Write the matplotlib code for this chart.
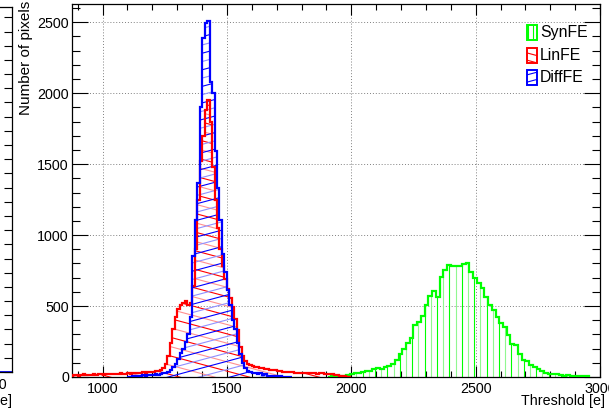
import numpy as np
import matplotlib
matplotlib.use("Agg")
import matplotlib.pyplot as plt
from matplotlib.collections import LineCollection
from matplotlib.patches import Rectangle
from matplotlib.ticker import MultipleLocator

plt.rcParams['font.family'] = ['Liberation Sans', 'DejaVu Sans']

W, H = 609, 408

# SynFE: bins of 15 e starting at 1905
syn_start, syn_width = 1905, 15
syn_counts = [3, 5, 6, 8, 10, 12, 20, 28, 30, 35,
              42, 40, 55, 60, 58, 70, 75, 95, 120, 165,
              200, 240, 275, 365, 390, 430, 505, 570, 605, 565,
              705, 755, 790, 780, 785, 780, 795, 800, 740, 695,
              660, 625, 565, 505, 470, 425, 380, 355, 295, 235,
              225, 165, 120, 110, 85, 70, 55, 40, 30, 22,
              20, 18, 14, 10, 12, 8, 9, 7, 6, 5]

# LinFE: bins of 10 e starting at 880
lin_start, lin_width = 880, 10
lin_counts = [12, 15, 10, 14, 18, 12, 16, 14, 20, 15,
              18, 22, 16, 20, 18, 24, 20, 18, 22, 26,
              20, 24, 28, 22, 26, 30, 25, 28, 32, 30,
              35, 33, 38, 40, 45, 50, 65, 90, 150, 240,
              340, 420, 480, 505, 525, 535, 505, 520, 640, 900,
              1250, 1520, 1700, 1880, 1950, 1800, 1480, 1250, 1050, 900,
              780, 690, 620, 560, 490, 410, 330, 210, 150, 115,
              95, 85, 78, 72, 70, 66, 62, 58, 55, 52,
              50, 46, 44, 40, 38, 36, 35, 33, 34, 30,
              30, 28, 30, 28, 26, 27, 25, 26, 24, 25,
              26, 24, 22, 20, 18, 15, 12, 8, 6, 4,
              3, 2]

# DiffFE: bins of 10 e starting at 1100
diff_start, diff_width = 1100, 10
diff_counts = [2, 3, 5, 8, 10, 8, 12, 10, 14, 12,
               15, 18, 16, 22, 25, 30, 38, 50, 70, 95,
               130, 170, 200, 250, 300, 420, 850, 1110, 1370, 1900,
               2390, 2495, 2510, 2080, 2000, 1590, 1330, 1105, 870, 740,
               610, 505, 400, 340, 240, 165, 100, 60, 40, 35,
               28, 25, 20, 28, 15, 18, 10, 8, 10, 6,
               5, 4, 3, 2, 1, 1]

labels = ['SynFE', 'LinFE', 'DiffFE']
colors = ['#00ff00', '#ff0000', '#0000ff']
light = ['#90f890', '#ff9090', '#9090ff']
hatch_angle = [90, -15, 15]
hatch_step = [6.2, 9.0, 8.0]


def fig_frac(x, y):
    return x / W, 1 - y / H


def add_hatch(ax, fig, clip, angle, step, c1, c2, zorder=2):
    # hatch lines are laid out in pixels over the whole figure, then clipped
    segs = []
    if angle == 90:
        for c in np.arange(3, W, step):
            segs.append([(c / W, 0), (c / W, 1)])
    else:
        t = np.tan(np.radians(angle))
        span = abs(t) * W
        for c in np.arange(-span, H + span, step / np.cos(np.radians(angle))):
            segs.append([(0, c / H), (1, (c + t * W) / H)])
    cols = [c1 if i % 2 == 0 else c2 for i in range(len(segs))]
    lc = LineCollection(segs, colors=cols, linewidths=0.8,
                        transform=fig.transFigure, zorder=zorder)
    ax.add_collection(lc, autolim=False)
    lc.set_clip_path(clip)
    return lc


fig = plt.figure(figsize=(W / 100, H / 100), dpi=100)

# main pad
x0, x1, y0, y1 = 72, 600, 4, 377
ax = fig.add_axes([x0 / W, 1 - y1 / H, (x1 - x0) / W, (y1 - y0) / H])
ax.set_xlim(877, 3000)
ax.set_ylim(0, 2629)

series = [(syn_start, syn_width, syn_counts),
          (lin_start, lin_width, lin_counts),
          (diff_start, diff_width, diff_counts)]

for i, (start, width, counts) in enumerate(series):
    edges = start + width * np.arange(len(counts) + 1)
    clip = ax.stairs(counts, edges, fill=True, facecolor='none',
                     edgecolor='none', linewidth=0)
    add_hatch(ax, fig, clip, hatch_angle[i], hatch_step[i], colors[i], light[i])
    ax.stairs(counts, edges, color=colors[i], linewidth=1.6, baseline=0, zorder=3)

ax.xaxis.set_major_locator(MultipleLocator(500))
ax.xaxis.set_minor_locator(MultipleLocator(100))
ax.yaxis.set_major_locator(MultipleLocator(500))
ax.yaxis.set_minor_locator(MultipleLocator(100))
ax.tick_params(which='both', direction='in', top=True, right=True,
               width=0.8, colors='black', labelsize=10.3)
ax.tick_params(axis='x', which='major', length=8.1, pad=3.4)
ax.tick_params(axis='x', which='minor', length=4.0)
ax.tick_params(axis='y', which='major', length=11.4, pad=2.2)
ax.tick_params(axis='y', which='minor', length=5.7)
ax.grid(True, which='major', linestyle=(0, (1, 2)), color='#808080', linewidth=0.7)
for s in ax.spines.values():
    s.set_linewidth(0.9)

fig.text(605 / W, 1 - 394 / H, 'Threshold [e]', ha='right', va='top', fontsize=10.3)
fig.text(26 / W, 1 - 1 / H, 'Number of pixels', rotation=90,
         ha='center', va='top', fontsize=11)

# legend, drawn by hand so the boxes carry the same hatching
for i, name in enumerate(labels):
    top = 25 + 22.5 * i
    bx, by = fig_frac(527, top + 15)
    box = Rectangle((bx, by), 10 / W, 15 / H, transform=fig.transFigure,
                    fill=False, edgecolor=colors[i], linewidth=1.4, zorder=4)
    ax.add_artist(box)
    box.set_clip_on(False)
    add_hatch(ax, fig, box, hatch_angle[i], 7.0 if i else 5.0, colors[i], colors[i], zorder=4)
    tx, ty = fig_frac(540, top + 7.5)
    fig.text(tx, ty, name, ha='left', va='center', fontsize=11.4)

# neighbouring pad cut off on the left
lx1, ly0, ly1 = 11.5, 7, 372
ax0 = fig.add_axes([-0.2, 1 - ly1 / H, lx1 / W + 0.2, (ly1 - ly0) / H])
ax0.set_ylim(0, 2573)
ax0.set_xlim(0, 1)
ax0.axhline(0, color='#0000ff', linewidth=2)
ax0.yaxis.set_major_locator(MultipleLocator(100))
ax0.yaxis.tick_right()
ax0.tick_params(axis='y', direction='in', length=5.7, width=0.8, labelright=False)
ax0.set_xticks([])
ax0.spines['left'].set_visible(False)
for s in ax0.spines.values():
    s.set_linewidth(0.9)
fig.text(7.5 / W, 1 - 378 / H, '3000', ha='right', va='top', fontsize=10.3)
fig.text(12 / W, 1 - 394 / H, 'Threshold [e]', ha='right', va='top', fontsize=10.3)

fig.savefig('out.png', dpi=100)
